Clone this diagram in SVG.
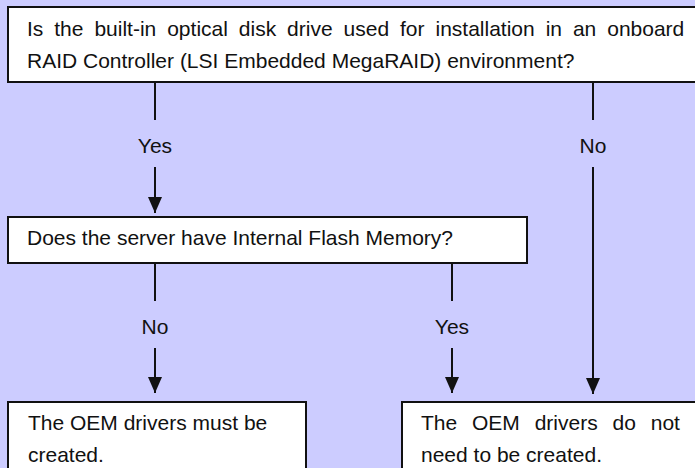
<svg xmlns="http://www.w3.org/2000/svg" width="695" height="468" viewBox="0 0 695 468">
  <style>
    .box { fill: #ffffff; stroke: #111111; stroke-width: 2; }
    .txt { font-family: "Liberation Sans", Arial, sans-serif; font-size: 21px; fill: #111111; }
    .lbl { font-family: "Liberation Sans", Arial, sans-serif; font-size: 21px; fill: #111111; text-anchor: middle; }
    .conn { stroke: #111111; stroke-width: 2; fill: none; }
  </style>
  <defs>
    <marker id="arrow" viewBox="0 0 16 14" refX="16" refY="7" markerWidth="16" markerHeight="14" markerUnits="userSpaceOnUse" orient="auto">
      <path d="M0,0 L16,7 L0,14 z" fill="#111111"/>
    </marker>
  </defs>
  <rect x="0" y="0" width="695" height="468" fill="#ccccff"/>

  <g id="connectors">
    <line class="conn" x1="155" y1="82" x2="155" y2="120"/>
    <text class="lbl" x="155" y="153">Yes</text>
    <line class="conn" x1="155" y1="167" x2="155" y2="213" marker-end="url(#arrow)"/>

    <line class="conn" x1="593" y1="82" x2="593" y2="120"/>
    <text class="lbl" x="593" y="153">No</text>
    <line class="conn" x1="593" y1="167" x2="593" y2="394" marker-end="url(#arrow)"/>

    <line class="conn" x1="155" y1="263" x2="155" y2="301"/>
    <text class="lbl" x="155" y="334">No</text>
    <line class="conn" x1="155" y1="348" x2="155" y2="393" marker-end="url(#arrow)"/>

    <line class="conn" x1="452" y1="263" x2="452" y2="301"/>
    <text class="lbl" x="452" y="334">Yes</text>
    <line class="conn" x1="452" y1="348" x2="452" y2="393" marker-end="url(#arrow)"/>
  </g>

  <g id="q1">
    <rect class="box" x="8" y="7" width="700" height="75"/>
    <text class="txt" x="27" y="36" word-spacing="5.1">Is the built-in optical disk drive used for installation in an onboard</text>
    <text class="txt" x="27" y="68">RAID Controller (LSI Embedded MegaRAID) environment?</text>
  </g>

  <g id="q2">
    <rect class="box" x="8" y="217" width="519" height="46"/>
    <text class="txt" x="27" y="245">Does the server have Internal Flash Memory?</text>
  </g>

  <g id="r1">
    <rect class="box" x="8" y="402" width="298" height="80"/>
    <text class="txt" x="28" y="430">The OEM drivers must be</text>
    <text class="txt" x="28" y="462">created.</text>
  </g>

  <g id="r2">
    <rect class="box" x="402" y="402" width="310" height="80"/>
    <text class="txt" x="421" y="430" word-spacing="9">The OEM drivers do not</text>
    <text class="txt" x="421" y="462">need to be created.</text>
  </g>
</svg>
